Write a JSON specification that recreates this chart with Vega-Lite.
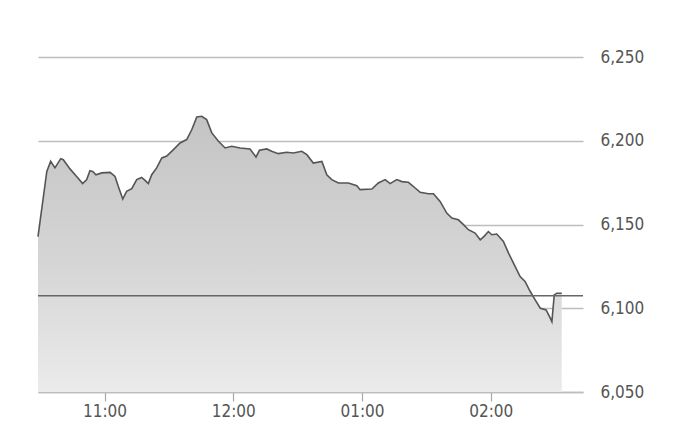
{
  "$schema": "https://vega.github.io/schema/vega-lite/v6.json",
  "width": 545,
  "height": 335,
  "autosize": {"type": "none"},
  "padding": {"left": 38, "top": 57, "right": 98, "bottom": 42},
  "background": "white",
  "config": {
    "view": {"stroke": null},
    "axis": {"labelFont": "DejaVu Sans Condensed, Liberation Sans Narrow, Roboto, sans-serif", "labelColor": "#555555", "labelFontSize": 17}
  },
  "datasets": {
    "prices": [
      {"t": "2020-01-01T10:29:00", "v": 6142.7},
      {"t": "2020-01-01T10:33:06", "v": 6181.7},
      {"t": "2020-01-01T10:34:54", "v": 6187.7},
      {"t": "2020-01-01T10:36:54", "v": 6183.8},
      {"t": "2020-01-01T10:39:36", "v": 6189.3},
      {"t": "2020-01-01T10:40:48", "v": 6188.7},
      {"t": "2020-01-01T10:43:54", "v": 6183.2},
      {"t": "2020-01-01T10:47:00", "v": 6178.7},
      {"t": "2020-01-01T10:49:48", "v": 6174.4},
      {"t": "2020-01-01T10:51:42", "v": 6176.8},
      {"t": "2020-01-01T10:53:12", "v": 6182.1},
      {"t": "2020-01-01T10:54:30", "v": 6181.7},
      {"t": "2020-01-01T10:56:00", "v": 6179.7},
      {"t": "2020-01-01T10:58:42", "v": 6180.8},
      {"t": "2020-01-01T11:02:36", "v": 6181.1},
      {"t": "2020-01-01T11:04:54", "v": 6178.7},
      {"t": "2020-01-01T11:06:24", "v": 6172.8},
      {"t": "2020-01-01T11:08:30", "v": 6165.2},
      {"t": "2020-01-01T11:10:18", "v": 6169.8},
      {"t": "2020-01-01T11:12:42", "v": 6171.4},
      {"t": "2020-01-01T11:15:00", "v": 6176.8},
      {"t": "2020-01-01T11:17:18", "v": 6178.1},
      {"t": "2020-01-01T11:18:54", "v": 6176.3},
      {"t": "2020-01-01T11:20:24", "v": 6174.4},
      {"t": "2020-01-01T11:22:00", "v": 6179.7},
      {"t": "2020-01-01T11:24:18", "v": 6183.8},
      {"t": "2020-01-01T11:26:42", "v": 6189.7},
      {"t": "2020-01-01T11:29:00", "v": 6190.9},
      {"t": "2020-01-01T11:32:06", "v": 6194.7},
      {"t": "2020-01-01T11:35:12", "v": 6198.7},
      {"t": "2020-01-01T11:38:18", "v": 6200.7},
      {"t": "2020-01-01T11:40:42", "v": 6206.7},
      {"t": "2020-01-01T11:43:00", "v": 6214.2},
      {"t": "2020-01-01T11:45:18", "v": 6214.6},
      {"t": "2020-01-01T11:47:36", "v": 6212.6},
      {"t": "2020-01-01T11:50:00", "v": 6204.7},
      {"t": "2020-01-01T11:53:06", "v": 6199.7},
      {"t": "2020-01-01T11:56:12", "v": 6195.7},
      {"t": "2020-01-01T11:59:18", "v": 6196.7},
      {"t": "2020-01-01T12:03:12", "v": 6195.7},
      {"t": "2020-01-01T12:07:48", "v": 6195.1},
      {"t": "2020-01-01T12:10:36", "v": 6190.3},
      {"t": "2020-01-01T12:12:12", "v": 6194.3},
      {"t": "2020-01-01T12:15:36", "v": 6195.1},
      {"t": "2020-01-01T12:17:54", "v": 6193.7},
      {"t": "2020-01-01T12:21:00", "v": 6192.3},
      {"t": "2020-01-01T12:24:54", "v": 6193.1},
      {"t": "2020-01-01T12:28:00", "v": 6192.7},
      {"t": "2020-01-01T12:31:54", "v": 6193.7},
      {"t": "2020-01-01T12:34:18", "v": 6191.7},
      {"t": "2020-01-01T12:37:18", "v": 6186.7},
      {"t": "2020-01-01T12:41:18", "v": 6187.7},
      {"t": "2020-01-01T12:43:36", "v": 6179.7},
      {"t": "2020-01-01T12:45:54", "v": 6176.8},
      {"t": "2020-01-01T12:49:00", "v": 6174.8},
      {"t": "2020-01-01T12:53:42", "v": 6174.8},
      {"t": "2020-01-01T12:57:36", "v": 6173.2},
      {"t": "2020-01-01T12:59:06", "v": 6170.8},
      {"t": "2020-01-01T13:04:36", "v": 6171.2},
      {"t": "2020-01-01T13:07:36", "v": 6174.8},
      {"t": "2020-01-01T13:10:48", "v": 6176.8},
      {"t": "2020-01-01T13:13:06", "v": 6174.4},
      {"t": "2020-01-01T13:16:12", "v": 6176.8},
      {"t": "2020-01-01T13:18:36", "v": 6175.6},
      {"t": "2020-01-01T13:21:36", "v": 6175.2},
      {"t": "2020-01-01T13:24:48", "v": 6171.8},
      {"t": "2020-01-01T13:27:06", "v": 6169.2},
      {"t": "2020-01-01T13:31:00", "v": 6168.4},
      {"t": "2020-01-01T13:33:18", "v": 6168.4},
      {"t": "2020-01-01T13:36:24", "v": 6163.8},
      {"t": "2020-01-01T13:39:30", "v": 6156.8},
      {"t": "2020-01-01T13:41:54", "v": 6153.9},
      {"t": "2020-01-01T13:44:54", "v": 6152.8},
      {"t": "2020-01-01T13:47:18", "v": 6149.9},
      {"t": "2020-01-01T13:49:36", "v": 6146.9},
      {"t": "2020-01-01T13:52:42", "v": 6144.9},
      {"t": "2020-01-01T13:55:06", "v": 6140.9},
      {"t": "2020-01-01T13:56:54", "v": 6142.9},
      {"t": "2020-01-01T13:58:54", "v": 6145.8},
      {"t": "2020-01-01T14:00:30", "v": 6143.9},
      {"t": "2020-01-01T14:02:48", "v": 6144.3},
      {"t": "2020-01-01T14:05:54", "v": 6139.9},
      {"t": "2020-01-01T14:08:18", "v": 6132.9},
      {"t": "2020-01-01T14:11:24", "v": 6124.9},
      {"t": "2020-01-01T14:13:42", "v": 6118.9},
      {"t": "2020-01-01T14:16:00", "v": 6116.0},
      {"t": "2020-01-01T14:18:24", "v": 6110.0},
      {"t": "2020-01-01T14:20:42", "v": 6105.0},
      {"t": "2020-01-01T14:23:06", "v": 6100.0},
      {"t": "2020-01-01T14:25:48", "v": 6099.0},
      {"t": "2020-01-01T14:27:24", "v": 6095.0},
      {"t": "2020-01-01T14:28:30", "v": 6092.0},
      {"t": "2020-01-01T14:29:36", "v": 6108.0},
      {"t": "2020-01-01T14:30:48", "v": 6109.0},
      {"t": "2020-01-01T14:33:06", "v": 6109.0}
    ],
    "ref": [{"prev": 6107.5}]
  },
  "layer": [
    {
      "data": {"name": "prices"},
      "mark": {
        "type": "area",
        "color": {
          "gradient": "linear",
          "x1": 0, "y1": 0, "x2": 0, "y2": 1,
          "stops": [
            {"offset": 0, "color": "#c4c4c4"},
            {"offset": 0.55, "color": "#d6d6d6"},
            {"offset": 1, "color": "#ebebeb"}
          ]
        }
      },
      "encoding": {
        "x": {
          "field": "t",
          "type": "temporal",
          "scale": {"domain": ["2020-01-01T10:29:00", "2020-01-01T14:43:00"]},
          "axis": {
            "title": null,
            "format": "%I:%M",
            "values": ["2020-01-01T11:00:00", "2020-01-01T12:00:00", "2020-01-01T13:00:00", "2020-01-01T14:00:00"],
            "grid": false,
            "domain": true,
            "domainColor": "#bdbdbd",
            "domainWidth": 1.5,
            "ticks": true,
            "tickColor": "#a8a8a8",
            "tickWidth": 1.2,
            "tickSize": 9,
            "tickOpacity": 1,
            "labelPadding": 2,
            "labelBaseline": "top"
          }
        },
        "y": {
          "field": "v",
          "type": "quantitative",
          "stack": null,
          "scale": {"domain": [6050, 6250], "zero": false, "nice": false},
          "axis": {
            "title": null,
            "orient": "right",
            "values": [6050, 6100, 6150, 6200, 6250],
            "format": ",.0f",
            "domain": false,
            "ticks": false,
            "labelPadding": 17,
            "gridColor": "#bdbdbd",
            "gridWidth": 1.5,
            "gridOpacity": 1
          }
        },
        "y2": {"datum": 6050}
      }
    },
    {
      "data": {"name": "prices"},
      "mark": {"type": "line", "color": "#555555", "strokeWidth": 1.6},
      "encoding": {
        "x": {"field": "t", "type": "temporal"},
        "y": {"field": "v", "type": "quantitative"}
      }
    },
    {
      "data": {"name": "ref"},
      "mark": {"type": "rule", "color": "#666666", "strokeWidth": 1.5},
      "encoding": {
        "y": {"field": "prev", "type": "quantitative"}
      }
    }
  ]
}
